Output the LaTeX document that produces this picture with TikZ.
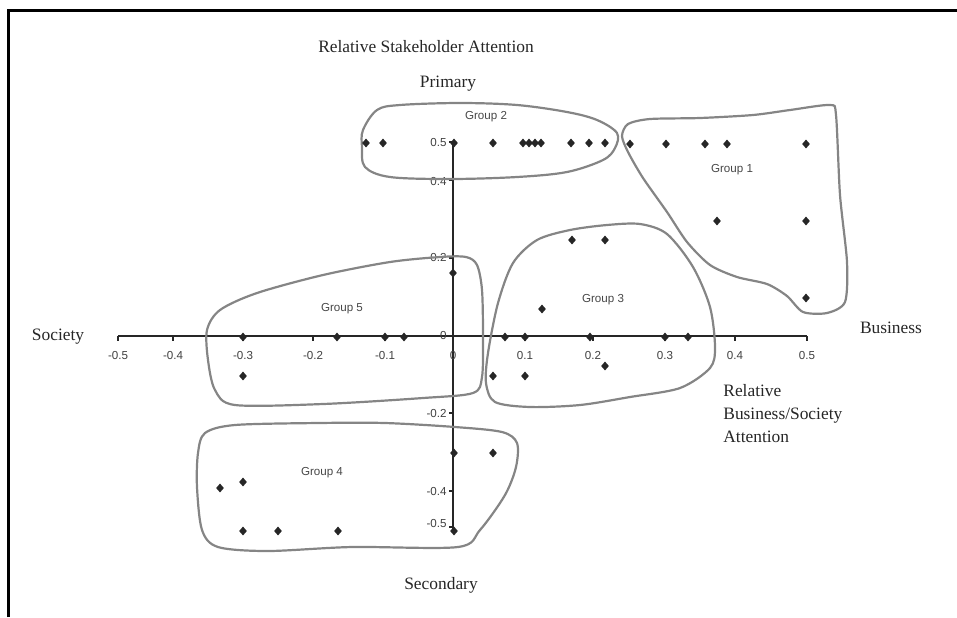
\documentclass[tikz,border=0pt]{standalone}
\usepackage{fontspec}
\setmainfont{Liberation Serif}
\newfontfamily\chartsans{Liberation Sans}
\usetikzlibrary{shapes.geometric}
\begin{document}
\begin{tikzpicture}[x=0.5pt,y=-0.5pt,
  axisline/.style={line width=1.15pt, draw=black!85},
  tickmark/.style={line width=0.9pt, draw=black!85},
  cluster/.style={draw=black!48, line width=1.1pt, line join=round},
  datum/.style={diamond, fill=black!85, inner sep=0pt, minimum width=4pt, minimum height=4.6pt},
  ticklabel/.style={font=\chartsans\fontsize{5.8}{6}\selectfont, text=black!75, inner sep=0pt},
  grouplabel/.style={font=\chartsans\fontsize{5.8}{6}\selectfont, text=black!72, inner sep=0pt},
  caption/.style={font=\fontsize{8.7}{10.5}\selectfont, text=black!85, inner sep=0pt}]
\useasboundingbox (0,0) rectangle (957,617);
% frame
\draw[line width=1.5pt] (8.5,617) -- (8.5,10.5) -- (957,10.5);

% axes
\coordinate (xl) at (118,336);
\coordinate (xr) at (807,336);
\coordinate (yt) at (453,142);
\coordinate (yb) at (453,531);
\draw[axisline] (xl) -- (xr);
\draw[axisline] (yt) -- (yb);

% horizontal ticks and labels
\foreach \x/\t [count=\i] in {118/-0.5,173/-0.4,243/-0.3,313/-0.2,385/-0.1,453/0,525/0.1,593/0.2,665/0.3,735/0.4,807/0.5}{
  \draw[tickmark] (\x,336) -- (\x,341);
  \node[ticklabel] (hx\i) at (\x,355) {\t};
}
% vertical ticks and labels
\foreach \y/\t [count=\i] in {142/0.5,180/0.4,258/0.2,336/0,413/-0.2,491/-0.4,527/-0.5}{
  \draw[tickmark] (449,\y) -- (453,\y);
}
\node[ticklabel, anchor=east] (vy1) at (447,142) {0.5};
\node[ticklabel, anchor=east] (vy2) at (447,181) {0.4};
\node[ticklabel, anchor=east] (vy3) at (447,257) {0.2};
\node[ticklabel, anchor=east] (vy4) at (447,335) {0};
\node[ticklabel, anchor=east] (vy5) at (447,413) {-0.2};
\node[ticklabel, anchor=east] (vy6) at (447,491) {-0.4};
\node[ticklabel, anchor=east] (vy7) at (447,523) {-0.5};

% cluster outlines
\draw[cluster] plot[smooth cycle, tension=0.55] coordinates {
  (377,110) (400,105) (460,103) (517,105) (567,112) (597,120) (617,133)
  (615,148) (603,160) (567,172) (517,177) (450,179) (390,177) (365,167)
  (362,147) (363,130)};
\draw[cluster] plot[smooth cycle, tension=0.45] coordinates {
  (628,124) (650,119) (700,118) (753,115) (790,110) (830,105)
  (836,115) (840,195) (847,262) (845,302) (827,313) (803,312) (787,296)
  (767,284) (737,277) (710,265) (687,242) (667,212) (643,178) (628,152)
  (622,136)};
\draw[cluster] plot[smooth cycle, tension=0.5] coordinates {
  (440,257) (390,262) (323,275) (257,293) (220,310) (207,330) (208,360)
  (215,390) (235,405) (323,404) (423,398) (473,393) (482,377) (483,337)
  (482,290) (477,265) (466,257)};
\draw[cluster] plot[smooth cycle, tension=0.5] coordinates {
  (607,225) (640,224) (667,234) (693,267) (710,307) (715,347) (710,368)
  (680,388) (630,397) (580,405) (530,407) (495,402) (486,383) (488,353)
  (498,303) (513,263) (537,240) (570,230)};
\draw[cluster] plot[smooth cycle, tension=0.5] coordinates {
  (205,433) (235,425) (318,423) (385,423) (455,427) (502,432) (517,443)
  (516,467) (505,495) (480,530) (458,547) (352,547) (268,551) (218,547)
  (202,530) (197,487) (198,453)};

% data points
\foreach \x/\y [count=\i] in {366/143,383/143,454/143,493/143,523/143,529/143,535/143,541/143,571/143,589/143,605/143}
  \node[datum] (gb\i) at (\x,\y) {};
\foreach \x/\y [count=\i] in {630/144,666/144,705/144,727/144,806/144,717/221,806/221,806/298}
  \node[datum] (ga\i) at (\x,\y) {};
\foreach \x/\y [count=\i] in {572/240,605/240,542/309,505/337,525/337,590/337,665/337,688/337,493/376,525/376,605/366}
  \node[datum] (gc\i) at (\x,\y) {};
\foreach \x/\y [count=\i] in {243/337,337/337,385/337,404/337,453/273,243/376}
  \node[datum] (ge\i) at (\x,\y) {};
\foreach \x/\y [count=\i] in {220/488,243/482,243/531,278/531,338/531,454/453,493/453,454/531}
  \node[datum] (gd\i) at (\x,\y) {};

% group labels
\node[grouplabel] (g1) at (732,170) {Group 1};
\node[grouplabel] (g2) at (486,117) {Group 2};
\node[grouplabel] (g3) at (603,300) {Group 3};
\node[grouplabel] (g4) at (322,473) {Group 4};
\node[grouplabel] (g5) at (342,309) {Group 5};

% axis captions
\node[caption] (title) at (426,47) {Relative Stakeholder Attention};
\node[caption] (prim) at (448,84) {Primary};
\node[caption] (sec) at (441,585) {Secondary};
\node[caption] (soc) at (58,337) {Society};
\node[caption] (bus) at (891,328) {Business};
\node[caption, anchor=north west, align=left] (xcap) at (723,384)
  {Relative\\[1pt]Business/Society\\[1pt]Attention};
\end{tikzpicture}
\end{document}
